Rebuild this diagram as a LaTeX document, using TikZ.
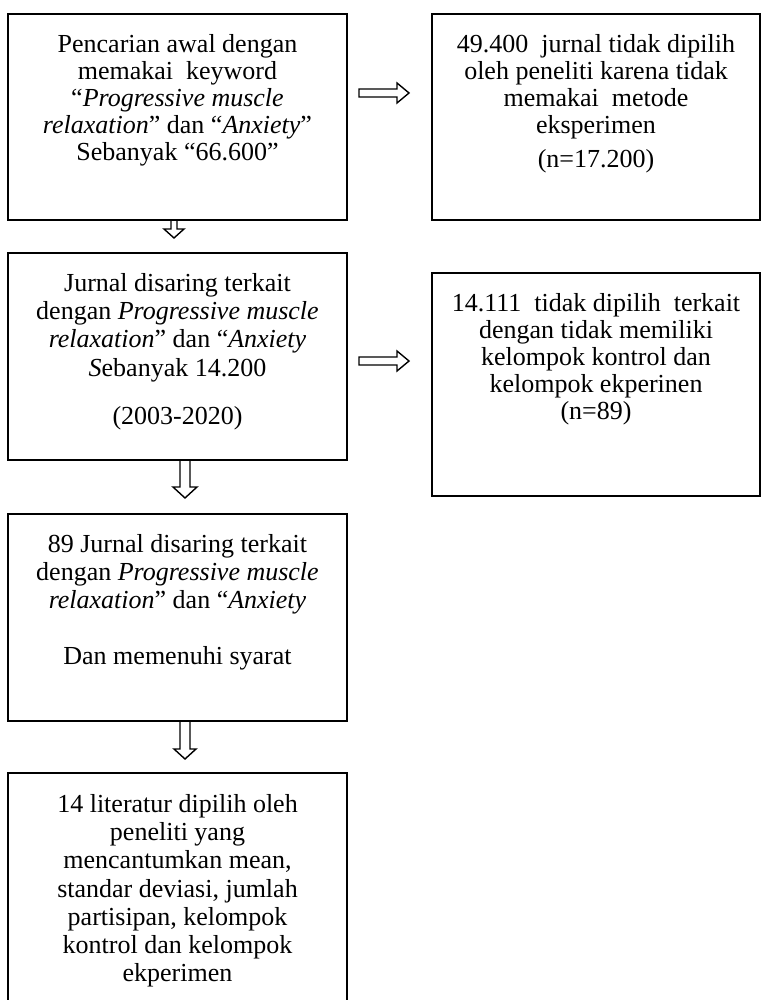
\documentclass[tikz,border=0pt]{standalone}
\usepackage{fontspec}
\setmainfont{Liberation Serif}
\usepackage{tikz}
\usetikzlibrary{calc}
\usetikzlibrary{positioning}

\tikzset{
  box/.style={draw, line width=1pt, inner sep=0pt, outer sep=0pt},
  boxtext/.style={anchor=north, align=center, inner sep=0pt,
    font=\fontsize{13}{13.5}\selectfont, execute at begin node=\strut},
  widetext/.style={boxtext, font=\fontsize{13}{14.1}\selectfont},
  blockarrow/.style={draw, line width=0.7pt, line join=miter},
}
% hollow arrows: start, end, half shaft, half head, head length
\newcommand{\hollowright}[5]{%
  \draw[blockarrow] ($(#1)+(0,-#3)$) -- ($(#2)+(-#5,-#3)$) -- ($(#2)+(-#5,-#4)$) -- (#2)
    -- ($(#2)+(-#5,#4)$) -- ($(#2)+(-#5,#3)$) -- ($(#1)+(0,#3)$) -- cycle;}
\newcommand{\hollowdown}[5]{%
  \draw[blockarrow] ($(#1)+(-#3,0)$) -- ($(#2)+(-#3,-#5)$) -- ($(#2)+(-#4,-#5)$) -- (#2)
    -- ($(#2)+(#4,-#5)$) -- ($(#2)+(#3,-#5)$) -- ($(#1)+(#3,0)$);}

\begin{document}
\begin{tikzpicture}[line cap=round,x=0.5pt,y=-0.5pt]
\useasboundingbox (0,0) rectangle (763,1000);
\clip (0,0) rectangle (763,1000);
% boxes
\node[box, minimum width=169.5pt, minimum height=103pt] (search) at (177.5,117) {};
\node[box, minimum width=164pt, minimum height=103pt] (drop1) at (596,117) {};
\node[box, minimum width=169.5pt, minimum height=103.5pt] (filter) at (177.5,356.5) {};
\node[box, minimum width=164pt, minimum height=111.5pt] (drop2) at (596,384.5) {};
\node[box, minimum width=169.5pt, minimum height=103.5pt] (eligible) at (177.5,617.5) {};
\node[box, minimum width=169.5pt, minimum height=118.5pt] (chosen) at (177.5,891.5) {};
% texts
\node[boxtext] (searchtxt) at ([yshift=-10pt]search.north) {Pencarian awal dengan\\
  memakai~ keyword\\
  “\textit{Progressive muscle}\\
  \textit{relaxation}” dan “\textit{Anxiety}”\\
  Sebanyak “66.600”};
\node[boxtext] (drop1txt) at ([yshift=-10pt]drop1.north) {49.400~ jurnal tidak dipilih\\
  oleh peneliti karena tidak\\
  memakai~ metode\\
  eksperimen\\[3.3pt]
  (n=17.200)};
\node[widetext] (filtertxt) at ([yshift=-10pt]filter.north) {Jurnal disaring terkait\\
  dengan \textit{Progressive muscle}\\
  \textit{relaxation}” dan “\textit{Anxiety}\\
  \textit{S}ebanyak 14.200\\[10pt]
  (2003-2020)};
\node[boxtext] (drop2txt) at ([yshift=-10pt]drop2.north) {14.111~ tidak dipilih~ terkait\\
  dengan tidak memiliki\\
  kelompok kontrol dan\\
  kelompok ekperinen\\
  (n=89)};
\node[widetext] (eligibletxt) at ([yshift=-10pt]eligible.north) {89 Jurnal disaring terkait\\
  dengan \textit{Progressive muscle}\\
  \textit{relaxation}” dan “\textit{Anxiety}\\[13.5pt]
  Dan memenuhi syarat};
\node[widetext] (chosentxt) at ([yshift=-10.5pt]chosen.north) {14 literatur dipilih oleh\\
  peneliti yang\\
  mencantumkan mean,\\
  standar deviasi, jumlah\\
  partisipan, kelompok\\
  kontrol dan kelompok\\
  ekperimen};
% arrows
\coordinate (r1s) at (359,93);
\coordinate (r1e) at (409,93);
\coordinate (r2s) at (359,361);
\coordinate (r2e) at (409,361);
\hollowright{r1s}{r1e}{4}{10}{12}
\hollowright{r2s}{r2e}{4}{10}{12}
\coordinate (d1s) at ([xshift=-1.75pt]search.south);
\coordinate (d1e) at ($(d1s)+(0,18)$);
\coordinate (d2s) at ([xshift=3.75pt]filter.south);
\coordinate (d2e) at ($(d2s)+(0,38)$);
\coordinate (d3s) at ([xshift=3.75pt]eligible.south);
\coordinate (d3e) at ($(d3s)+(0,38)$);
\hollowdown{d1s}{d1e}{3}{10}{9}
\hollowdown{d2s}{d2e}{5}{12}{11}
\hollowdown{d3s}{d3e}{5}{11}{10}
\end{tikzpicture}
\end{document}
